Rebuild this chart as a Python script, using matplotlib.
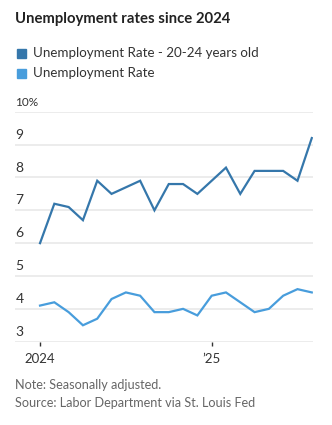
import matplotlib
matplotlib.use("Agg")
import matplotlib.pyplot as plt
import matplotlib.transforms as mtransforms

plt.rcParams['font.family'] = ['Lato', 'DejaVu Sans']

months = list(range(20))  # Jan 2024 .. Aug 2025
young = [6.0, 7.2, 7.1, 6.7, 7.9, 7.5, 7.7, 7.9, 7.0, 7.8,
         7.8, 7.5, 7.9, 8.3, 7.5, 8.2, 8.2, 8.2, 7.9, 9.2]
overall = [4.1, 4.2, 3.9, 3.5, 3.7, 4.3, 4.5, 4.4, 3.9, 3.9,
           4.0, 3.8, 4.4, 4.5, 4.2, 3.9, 4.0, 4.4, 4.6, 4.5]
yticks = [3, 4, 5, 6, 7, 8, 9, 10]
ytick_labels = ['3', '4', '5', '6', '7', '8', '9', '10%']
xticks = [0, 12]
xtick_labels = ['2024', '\u201925']

dark = '#3577ab'
light = '#489ddc'

fig = plt.figure(figsize=(3.32, 4.25), dpi=100)
ax = fig.add_axes([0.0443, 0.196, 0.8987, 0.541])

for y in yticks:
    ax.axhline(y, color='#ebebeb', lw=1.3, zorder=0)

ax.plot(months, young, color=dark, lw=1.6, solid_joinstyle='miter', zorder=3)
ax.plot(months, overall, color=light, lw=1.6, solid_joinstyle='miter', zorder=3)

ax.set_xlim(-1.77, 19.09)
ax.set_ylim(3, 10)
for s in ax.spines.values():
    s.set_visible(False)
ax.set_yticks([])
ax.set_xticks(xticks)
ax.set_xticklabels(xtick_labels, fontsize=9.5, color='#333333')
ax.tick_params(axis='x', length=3, width=1, color='#333333', pad=5)

trans = mtransforms.blended_transform_factory(ax.transAxes, ax.transData)
for y, lab in zip(yticks, ytick_labels):
    fs = 8.5 if lab == '10%' else 10
    ax.text(0.002, y + 0.12, lab, transform=trans, fontsize=fs,
            color='#333333', ha='left', va='bottom')

fig.text(0.045, 0.955, 'Unemployment rates since 2024', fontsize=10.7,
         fontweight='bold', color='#222222', va='center')

fig.patches.append(plt.Rectangle((17 / 332, 1 - 57.5 / 425), 8.5 / 332, 8.5 / 425,
                                 color=dark, transform=fig.transFigure))
fig.patches.append(plt.Rectangle((17 / 332, 1 - 77.5 / 425), 8.5 / 332, 8.5 / 425,
                                 color=light, transform=fig.transFigure))
fig.text(33 / 332, 1 - 53 / 425, 'Unemployment Rate - 20-24 years old',
         fontsize=9.6, color='#333333', va='center')
fig.text(33 / 332, 1 - 73 / 425, 'Unemployment Rate',
         fontsize=9.6, color='#333333', va='center')

fig.text(0.045, 1 - 385 / 425, 'Note: Seasonally adjusted.', fontsize=9.1,
         color='#666666', va='center')
fig.text(0.045, 1 - 403 / 425, 'Source: Labor Department via St. Louis Fed',
         fontsize=9.1, color='#666666', va='center')

fig.savefig('out.png', dpi=100)
